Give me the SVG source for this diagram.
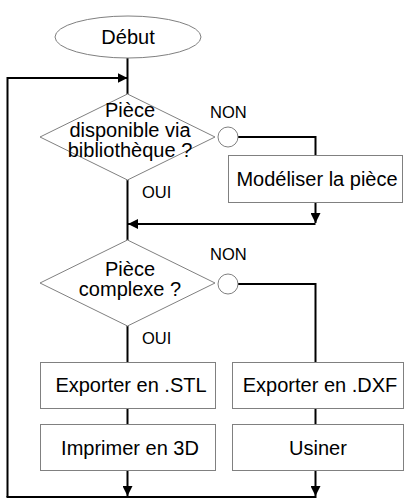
<svg xmlns="http://www.w3.org/2000/svg" width="405" height="498" viewBox="0 0 405 498">
<style>
.shape{fill:#fff;stroke:#808080;stroke-width:1}
.conn{fill:none;stroke:#000;stroke-width:2}
.t{font-family:"Liberation Sans",Arial,sans-serif;font-size:20px;fill:#000;text-anchor:middle}
.lbl{font-family:"Liberation Sans",Arial,sans-serif;font-size:16.5px;fill:#000}
</style>
<defs>
<marker id="ah" viewBox="0 0 10 10" refX="10" refY="5" markerWidth="10" markerHeight="10" markerUnits="userSpaceOnUse" orient="auto">
<path d="M0,0 L10,5 L0,10 z" fill="#000"/>
</marker>
</defs>
<g id="connectors">
<line class="conn" x1="127.5" y1="58" x2="127.5" y2="94"/>
<polyline class="conn" points="7.5,497 7.5,78 127.5,78" marker-end="url(#ah)"/>
<line class="conn" x1="127.5" y1="180" x2="127.5" y2="240"/>
<polyline class="conn" points="238,137 315.5,137 315.5,155"/>
<line class="conn" x1="315.5" y1="203" x2="315.5" y2="223" marker-end="url(#ah)"/>
<line class="conn" x1="315.5" y1="224" x2="128" y2="224" marker-end="url(#ah)"/>
<polyline class="conn" points="238,284 315.5,284 315.5,362"/>
<line class="conn" x1="127.5" y1="326" x2="127.5" y2="362"/>
<line class="conn" x1="127.5" y1="409" x2="127.5" y2="425"/>
<line class="conn" x1="315.5" y1="409" x2="315.5" y2="425"/>
<line class="conn" x1="127.5" y1="471" x2="127.5" y2="496" marker-end="url(#ah)"/>
<line class="conn" x1="315.5" y1="471" x2="315.5" y2="496" marker-end="url(#ah)"/>
<line class="conn" x1="6.5" y1="497" x2="316.5" y2="497"/>
</g>
<g id="debut">
<ellipse class="shape" cx="128" cy="37" rx="73" ry="21"/>
<text class="t" x="128" y="44">Début</text>
</g>
<g id="decision1">
<polygon class="shape" points="127.5,94 215,137 127.5,180 40,137"/>
<text class="t" x="130" y="117">Pièce</text>
<text class="t" x="130" y="137">disponible via</text>
<text class="t" x="130" y="157">bibliothèque ?</text>
</g>
<g id="non1">
<circle class="shape" cx="228" cy="137" r="10"/>
<text class="lbl" x="210" y="118">NON</text>
</g>
<g id="oui1"><text class="lbl" x="142" y="198">OUI</text></g>
<g id="modeliser">
<rect class="shape" x="228.5" y="155.5" width="174" height="47"/>
<text class="t" x="317" y="185.5">Modéliser la pièce</text>
</g>
<g id="decision2">
<polygon class="shape" points="127.5,240 215,283 127.5,326 40,283"/>
<text class="t" x="130" y="276">Pièce</text>
<text class="t" x="130" y="296">complexe ?</text>
</g>
<g id="non2">
<circle class="shape" cx="228" cy="284" r="10"/>
<text class="lbl" x="210" y="260">NON</text>
</g>
<g id="oui2"><text class="lbl" x="142" y="344">OUI</text></g>
<g id="stl">
<rect class="shape" x="40.5" y="362.5" width="175" height="46"/>
<text class="t" x="131" y="392">Exporter en .STL</text>
</g>
<g id="dxf">
<rect class="shape" x="232.5" y="362.5" width="171" height="46"/>
<text class="t" x="320" y="392">Exporter en .DXF</text>
</g>
<g id="imprimer">
<rect class="shape" x="40.5" y="424.5" width="175" height="46"/>
<text class="t" x="130" y="455">Imprimer en 3D</text>
</g>
<g id="usiner">
<rect class="shape" x="232.5" y="424.5" width="171" height="46"/>
<text class="t" x="318" y="455">Usiner</text>
</g>
</svg>
